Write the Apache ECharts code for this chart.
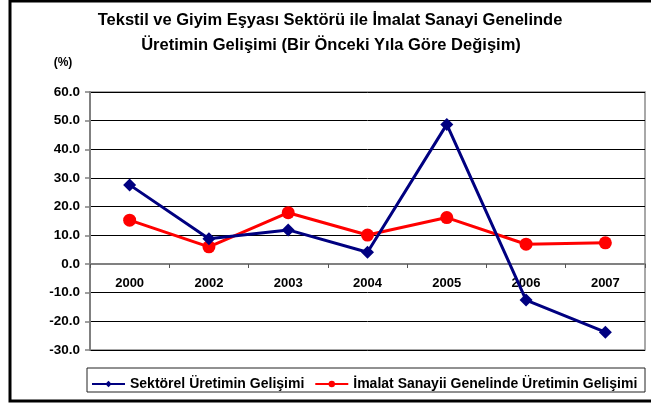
<!DOCTYPE html>
<html>
<head>
<meta charset="utf-8">
<script src="https://cdn.jsdelivr.net/npm/echarts@6/dist/echarts.min.js"></script>
<style>
  html, body { margin: 0; padding: 0; background: #fff; }
  #chart { width: 651px; height: 404px; }
</style>
</head>
<body>
<div id="chart"></div>
<script>
// years on the x axis
const years = ['2000', '2002', '2003', '2004', '2005', '2006', '2007']
// sector production change (%)
const sektorel = [27.6, 8.8, 11.9, 4.1, 48.7, -12.6, -23.8]
// manufacturing industry overall (%)
const imalat = [15.3, 6.0, 17.9, 10.1, 16.2, 6.9, 7.4]

const titleLines = [
  'Tekstil ve Giyim Eşyası Sektörü ile İmalat Sanayi Genelinde',
  'Üretimin Gelişimi (Bir Önceki Yıla Göre Değişim)'
]
const unitLabel = '(%)'
const seriesNames = ['Sektörel Üretimin Gelişimi', 'İmalat Sanayii Genelinde Üretimin Gelişimi']

const font = 'Liberation Sans, Arial, sans-serif'
const chart = echarts.init(document.getElementById('chart'))

const option = {
  animation: false,
  textStyle: {fontFamily: font},
  grid: {
    left: 90,
    right: 6,
    top: 92,
    bottom: 54,
    show: true,
    borderColor: '#8c8c8c',
    borderWidth: 1.5
  },
  xAxis: {
    type: 'category',
    data: years,
    boundaryGap: true,
    // put the axis (line, ticks, labels) on the 0.0 line
    axisLine: {onZero: false, lineStyle: {color: '#808080', width: 2}},
    offset: -86,
    axisTick: {show: true, length: 4, lineStyle: {color: '#555', width: 1}},
    axisLabel: {color: '#000', fontWeight: 'bold', fontSize: 13, fontFamily: font, margin: 13}
  },
  yAxis: {
    type: 'value',
    min: -30,
    max: 60,
    interval: 10,
    axisLine: {show: true, lineStyle: {color: '#808080', width: 2}},
    axisTick: {show: true, length: 5, lineStyle: {color: '#808080', width: 1.5}},
    axisLabel: {
      color: '#000', fontWeight: 'bold', fontSize: 13.5, fontFamily: font, margin: 10,
      formatter: v => v.toFixed(1)
    },
    splitLine: {
      show: true,
      lineStyle: {color: '#000', width: 1}
    }
  },
  legend: {
    left: 86,
    top: 372,
    itemGap: 10,
    itemWidth: 33,
    itemHeight: 8,
    textStyle: {fontSize: 14, fontWeight: 'bold', color: '#000', fontFamily: font},
    data: seriesNames
  },
  series: [
    {
      name: seriesNames[0],
      type: 'line',
      data: sektorel,
      symbol: 'diamond',
      symbolSize: 13,
      lineStyle: {color: '#000080', width: 3},
      itemStyle: {color: '#000080'},
      z: 3
    },
    {
      name: seriesNames[1],
      type: 'line',
      data: imalat,
      symbol: 'circle',
      symbolSize: 13,
      lineStyle: {color: '#ff0000', width: 3},
      itemStyle: {color: '#ff0000'},
      z: 2
    }
  ],
  graphic: [
    {
      type: 'rect',
      shape: {x: 10, y: 1, width: 680, height: 400},
      style: {fill: 'none', stroke: '#000', lineWidth: 3},
      silent: true
    },
    {
      type: 'rect',
      shape: {x: 87, y: 368, width: 558, height: 24},
      style: {fill: 'none', stroke: '#222', lineWidth: 1},
      silent: true
    },
    {
      type: 'text',
      x: 330, y: 20,
      style: {text: titleLines[0], fill: '#000', font: 'bold 16.5px ' + font, textAlign: 'center', textVerticalAlign: 'middle'}
    },
    {
      type: 'text',
      x: 331, y: 45,
      style: {text: titleLines[1], fill: '#000', font: 'bold 16.5px ' + font, textAlign: 'center', textVerticalAlign: 'middle'}
    },
    {
      type: 'text',
      x: 63, y: 63,
      style: {text: unitLabel, fill: '#000', font: 'bold 12px ' + font, textAlign: 'center', textVerticalAlign: 'middle'}
    }
  ]
}
chart.setOption(option)
</script>
</body>
</html>
